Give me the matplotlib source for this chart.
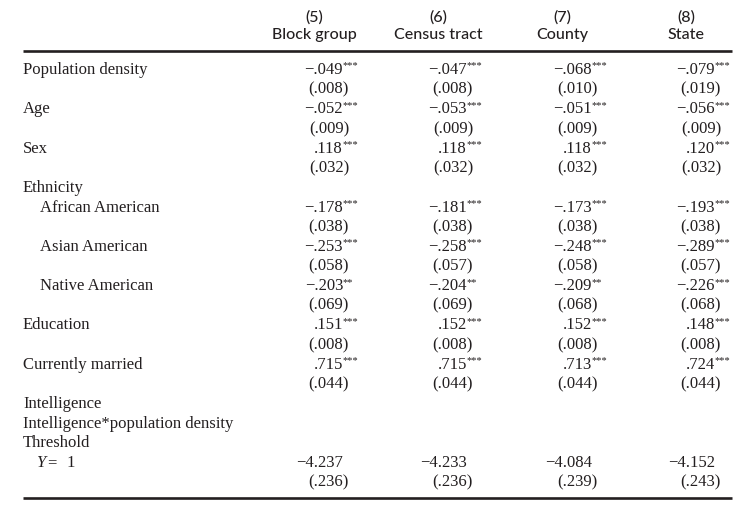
import matplotlib
matplotlib.use("Agg")
import matplotlib.pyplot as plt

# column headers
col_numbers = ["(5)", "(6)", "(7)", "(8)"]
col_names = ["Block group", "Census tract", "County", "State"]

# row labels (label, indented?)
row_labels = ["Population density", "Age", "Sex", "Ethnicity", "African American",
              "Asian American", "Native American", "Education", "Currently married",
              "Intelligence", "Intelligence*population density", "Threshold", "Y = 1"]
row_indent = [0, 0, 0, 0, 1, 1, 1, 0, 0, 0, 0, 0, 1]
# which labels carry an estimate (0 = label only)
row_has_est = [1, 1, 1, 0, 1, 1, 1, 1, 1, 0, 0, 0, 1]

# estimates per column, in order of the rows that have estimates
block_group_coef = [-.049, -.052, .118, -.178, -.253, -.203, .151, .715, -4.237]
block_group_se = [.008, .009, .032, .038, .058, .069, .008, .044, .236]
block_group_stars = ["***", "***", "***", "***", "***", "**", "***", "***", ""]

census_tract_coef = [-.047, -.053, .118, -.181, -.258, -.204, .152, .715, -4.233]
census_tract_se = [.008, .009, .032, .038, .057, .069, .008, .044, .236]
census_tract_stars = ["***", "***", "***", "***", "***", "**", "***", "***", ""]

county_coef = [-.068, -.051, .118, -.173, -.248, -.209, .152, .713, -4.084]
county_se = [.010, .009, .032, .038, .058, .068, .008, .044, .239]
county_stars = ["***", "***", "***", "***", "***", "**", "***", "***", ""]

state_coef = [-.079, -.056, .120, -.193, -.289, -.226, .148, .724, -4.152]
state_se = [.019, .009, .032, .038, .057, .068, .008, .044, .243]
state_stars = ["***", "***", "***", "***", "***", "***", "***", "***", ""]

coefs = [block_group_coef, census_tract_coef, county_coef, state_coef]
ses = [block_group_se, census_tract_se, county_se, state_se]
stars = [block_group_stars, census_tract_stars, county_stars, state_stars]


def fmt(v):
    s = "%.3f" % abs(v)
    if abs(v) < 1:
        s = s[1:]
    return ("\u2212" if v < 0 else "") + s


ink = "#231f20"
serif = "Liberation Serif"
sans = "Lato"

fig = plt.figure(figsize=(7.45, 5.06), dpi=100)
ax = fig.add_axes([0, 0, 1, 1])
ax.set_xlim(0, 745)
ax.set_ylim(506, 0)
ax.axis("off")

num_right = [343, 467, 592, 715]
head_center = [314, 438, 562, 686]
row0, step = 70, 19.65

for j in range(4):
    ax.text(head_center[j], 17, col_numbers[j], ha="center", va="center",
            fontsize=11.5, family=sans, weight="medium", color=ink)
    ax.text(head_center[j], 35, col_names[j], ha="center", va="center",
            fontsize=11.5, family=sans, weight="medium", color=ink)

ax.plot([23, 732], [52, 52], color=ink, lw=1.9, solid_capstyle="butt")

r = 0
k = 0
for lab, ind, est in zip(row_labels, row_indent, row_has_est):
    y = row0 + r * step
    if lab == "Y = 1":
        # italic Y, as in the source
        ax.text(36, y, "Y", ha="left", va="center", fontsize=12,
                family=serif, style="italic", color=ink)
        ax.text(47, y, "=", ha="left", va="center", fontsize=12,
                family=serif, color=ink)
        ax.text(66, y, "1", ha="left", va="center", fontsize=12,
                family=serif, color=ink)
    else:
        ax.text(40 if ind else 23, y, lab, ha="left", va="center",
                fontsize=12, family=serif, color=ink)
    if est:
        for j in range(4):
            ax.text(num_right[j], y, fmt(coefs[j][k]), ha="right", va="center",
                    fontsize=12, family=serif, color=ink)
            if stars[j][k]:
                ax.text(num_right[j] - 0.5, y - 4, stars[j][k], ha="left",
                        va="center", fontsize=7.5, family=serif, color=ink)
            ax.text(num_right[j] + 6, y + step, "(" + fmt(ses[j][k]) + ")",
                    ha="right", va="center", fontsize=12, family=serif, color=ink)
        k += 1
        r += 2
    else:
        r += 1

ax.plot([23, 732], [499, 499], color=ink, lw=1.9, solid_capstyle="butt")

fig.savefig("out.png", dpi=100, facecolor="white")
